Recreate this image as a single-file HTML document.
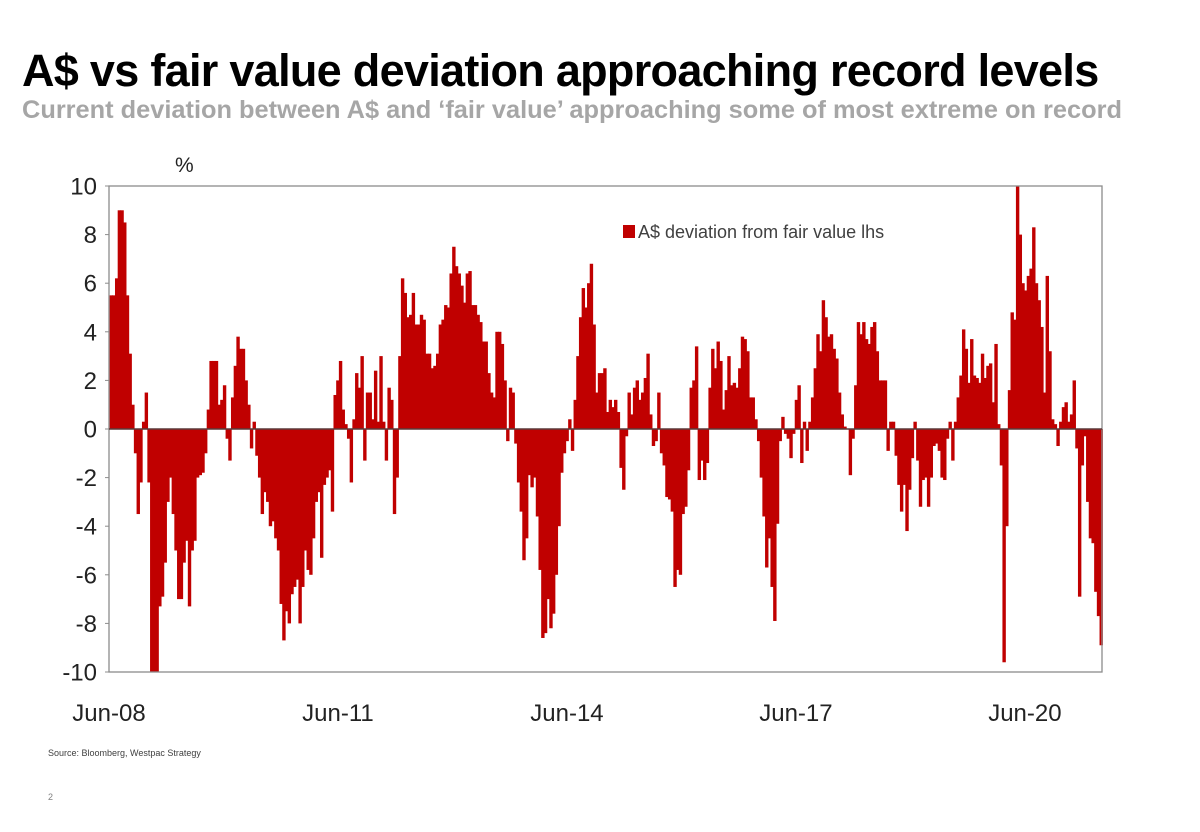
<!DOCTYPE html>
<html><head><meta charset="utf-8"><style>
body{margin:0;background:#fff;width:1200px;height:827px;overflow:hidden;font-family:"Liberation Sans",Arial,sans-serif}
</style></head><body>
<svg id="c" width="1200" height="827" xmlns="http://www.w3.org/2000/svg">
<text x="22" y="86" font-size="45" font-weight="bold" fill="#000" letter-spacing="-0.7">A$ vs fair value deviation approaching record levels</text>
<text x="22" y="118" font-size="25" font-weight="bold" fill="#a6a6a6" textLength="1100" lengthAdjust="spacingAndGlyphs">Current deviation between A$ and ‘fair value’ approaching some of most extreme on record</text>
<text x="175" y="172" font-size="21" fill="#222">%</text>
<g id="bars"></g>
<g id="axes"></g>
<rect x="623" y="225" width="12" height="13" fill="#c00000"/>
<text x="638" y="238" font-size="18" fill="#404040">A$ deviation from fair value lhs</text>
<text x="48" y="756" font-size="9" fill="#404040">Source: Bloomberg, Westpac Strategy</text>
<text x="48" y="800" font-size="9" fill="#808080">2</text>
</svg>
<script>
const yTicks=[10,8,6,4,2,0,-2,-4,-6,-8,-10];
const xLabels=["Jun-08","Jun-11","Jun-14","Jun-17","Jun-20"];
const xLabelYears=[2008.42,2011.42,2014.42,2017.42,2020.42];
const seriesStart=2008.45, seriesEnd=2021.42;
const deviation=[
5.5,5.5,6.2,9,9,8.5,5.5,3.1,1.0,-1,-3.5,-2.2,0.3,1.5,-2.2,-10,-10,-10,-7.3,-6.9,-5.5,-3,-2,-3.5,-5,-7,-7,-5.5,-4.6,-7.3,-5,-4.6,-2,-1.9,-1.8,-1,0.8,2.8,2.8,2.8,1,1.2,1.8,-0.4,-1.3,1.3,2.6,3.8,3.3,3.3,2,1,-0.8,0.3,-1.1,-2,-3.5,-2.6,-3,-4,-3.8,-4.5,-5,-7.2,-8.7,-7.5,-8,-6.8,-6.5,-6.2,-8,-6.5,-5,-5.8,-6,-4.5,-3,-2.6,-5.3,-2.3,-2,-1.7,-3.4,1.4,2,2.8,0.8,0.2,-0.4,-2.2,0.4,2.3,1.7,3,-1.3,1.5,1.5,
0.4,2.4,0.3,3,0.3,-1.3,1.7,1.2,-3.5,-2,3,6.2,5.6,4.6,4.7,5.6,4.3,4.3,4.7,4.5,3.1,3.1,2.5,2.6,3.1,4.3,4.5,5.1,5,6.4,7.5,6.7,6.4,5.9,5.2,6.4,6.5,5.1,5.1,4.7,4.4,3.6,3.6,2.3,1.5,1.3,4,4,3.5,2,-0.5,1.7,1.5,-0.6,-2.2,-3.4,-5.4,-4.5,-1.9,-2.4,-2,-3.6,-5.8,-8.6,-8.4,-7,-8.2,-7.6,-6,-4,-1.8,-1,-0.5,0.4,-0.9,1.2,3,4.6,5.8,5,6,6.8,4.3,1.5,2.3,
2.3,2.5,0.7,1.2,0.9,1.2,0.7,-1.6,-2.5,-0.3,1.5,0.6,1.7,2,1.2,1.5,2.1,3.1,0.6,-0.7,-0.5,1.5,-1,-1.5,-2.8,-2.9,-3.4,-6.5,-5.8,-6,-3.5,-3.2,-1.7,1.7,2,3.4,-2.1,-1.3,-2.1,-1.4,1.7,3.3,2.5,3.6,2.8,0.8,1.6,3,1.8,1.9,1.7,2.5,3.8,3.7,3.2,1.3,1.3,0.4,-0.5,-2,-3.6,-5.7,-4.5,-6.5,-7.9,-3.9,-0.5,0.5,-0.2,-0.4,-1.2,-0.2,1.2,1.8,-1.4,0.3,-0.9,0.3,1.3,2.5,3.9,3.2,5.3,4.6,3.8,3.9,3.3,2.9,1.5,0.6,0.1,0,-1.9,-0.4,1.8,4.4,3.9,
4.4,3.7,3.5,4.2,4.4,3.2,2,2,2,-0.9,0.3,0.3,-1.1,-2.3,-3.4,-2.3,-4.2,-2.5,-1.2,0.3,-1.3,-3.2,-2.1,-2,-3.2,-2,-0.7,-0.6,-0.9,-2,-2.1,-0.4,0.3,-1.3,0.3,1.3,2.2,4.1,3.3,1.9,3.7,2.2,2.1,1.9,3.1,2.1,2.6,2.7,1.1,3.5,0.2,-1.5,-9.6,-4,1.6,4.8,4.5,10,8,6,5.7,6.3,6.6,8.3,6,5.3,4.2,1.5,6.3,3.2,0.4,0.2,-0.7,0.3,0.9,1.1,0.3,0.6,2,-0.8,-6.9,-1.5,-0.3,-3,-4.5,-4.7,-6.7,-7.7,-8.9
];
const NS="http://www.w3.org/2000/svg";
const L=109,R=1102,T=186,B=672;
const X0=2008.42,X1=2021.43;
function xScale(t){return L+(t-X0)/(X1-X0)*(R-L);}
function yScale(v){return T+(10-v)/20*(B-T);}
const bars=document.getElementById('bars'),axes=document.getElementById('axes');
const n=deviation.length, step=(seriesEnd-seriesStart)/(n-1);
const bw=(xScale(seriesStart+step)-xScale(seriesStart))+0.7;
deviation.forEach((v,i)=>{
 const t=seriesStart+i*step;
 const r=document.createElementNS(NS,'rect');
 const y0=yScale(0),y1=yScale(v);
 r.setAttribute('x',xScale(t)-bw/2);r.setAttribute('width',bw);
 r.setAttribute('y',Math.min(y0,y1));r.setAttribute('height',Math.max(Math.abs(y1-y0),0.5));
 r.setAttribute('fill','#c00000');
 
 
 bars.appendChild(r);
});
function line(x1,y1,x2,y2,c,w){const l=document.createElementNS(NS,'line');l.setAttribute('x1',x1);l.setAttribute('y1',y1);l.setAttribute('x2',x2);l.setAttribute('y2',y2);l.setAttribute('stroke',c);l.setAttribute('stroke-width',w);axes.appendChild(l);return l;}
const fr=document.createElementNS(NS,'rect');
fr.setAttribute('x',L);fr.setAttribute('y',T);fr.setAttribute('width',R-L);fr.setAttribute('height',B-T);
fr.setAttribute('fill','none');fr.setAttribute('stroke','#8c8c8c');fr.setAttribute('stroke-width','1.3');


axes.appendChild(fr);
const z=line(L,yScale(0),R,yScale(0),'#5a3a3a',1.5);


yTicks.forEach(v=>{
 const tk=line(L-4,yScale(v),L,yScale(v),'#8c8c8c',1);
 
 
 const t=document.createElementNS(NS,'text');
 t.setAttribute('x',97);t.setAttribute('y',yScale(v)+8.5);t.setAttribute('text-anchor','end');
 t.setAttribute('font-size','24');t.setAttribute('fill','#222');t.textContent=v;
 
 
 axes.appendChild(t);
});
xLabels.forEach((s,i)=>{
 const t=document.createElementNS(NS,'text');
 t.setAttribute('x',xScale(xLabelYears[i]));t.setAttribute('y',721);t.setAttribute('text-anchor','middle');
 t.setAttribute('font-size','24');t.setAttribute('fill','#222');t.textContent=s;
 
 
 axes.appendChild(t);
});
</script>
</body></html>
